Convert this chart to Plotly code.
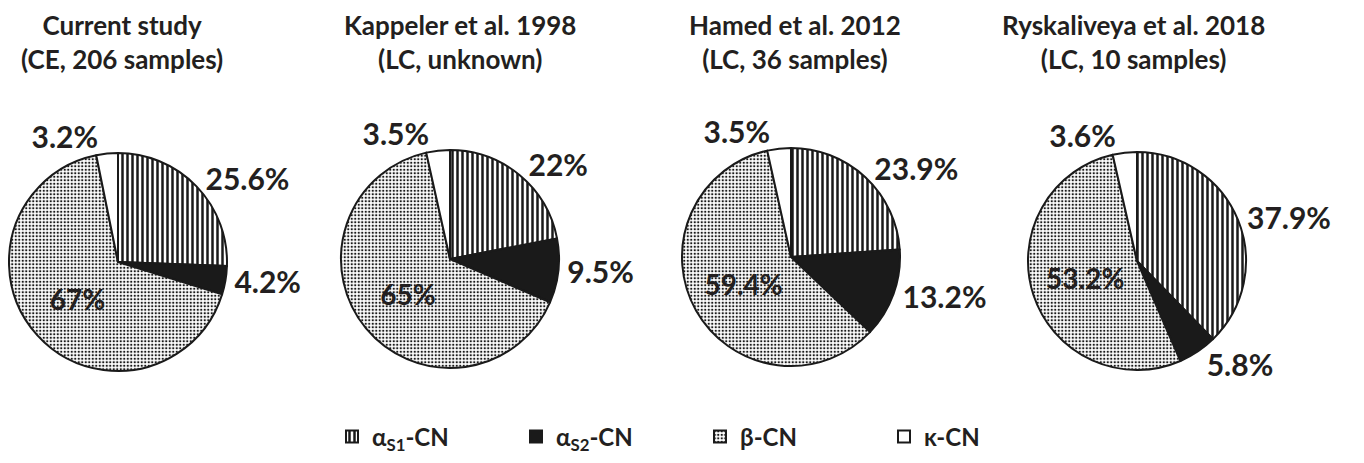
import plotly.graph_objects as go

categories = ["α<sub>S1</sub>-CN", "α<sub>S2</sub>-CN", "β-CN", "κ-CN"]
studies = ["Current study<br>(CE, 206 samples)",
           "Kappeler et al. 1998<br>(LC, unknown)",
           "Hamed et al. 2012<br>(LC, 36 samples)",
           "Ryskaliveya et al. 2018<br>(LC, 10 samples)"]
current_study = [25.6, 4.2, 67, 3.2]
kappeler_1998 = [22, 9.5, 65, 3.5]
hamed_2012 = [23.9, 13.2, 59.4, 3.5]
ryskaliveya_2018 = [37.9, 5.8, 53.2, 3.6]
series = [current_study, kappeler_1998, hamed_2012, ryskaliveya_2018]

W, H = 1364, 463
centers_px = [(118, 262), (450, 259), (791, 257), (1137, 261)]
title_x_px = [122, 460, 795, 1133]
R = 109
TXT = "#231f20"
FONT = "Lato"

fig = go.Figure()
for i, (vals, (cx, cy)) in enumerate(zip(series, centers_px)):
    fig.add_trace(go.Pie(
        labels=categories,
        values=vals,
        sort=False,
        direction="clockwise",
        rotation=0,
        domain=dict(x=[(cx - R) / W, (cx + R) / W], y=[(H - cy - R) / H, (H - cy + R) / H]),
        marker=dict(
            colors=["white", "#1a1a1a", "white", "white"],
            line=dict(color="#1a1a1a", width=2),
            pattern=dict(shape=["|", "", ".", ""], fgcolor="#1a1a1a", bgcolor="white",
                         size=[5, 6, 3.5, 6], solidity=[0.5, 0.3, 0.35, 0.3], fillmode="replace"),
        ),
        texttemplate="%{value}%",
        textposition=["outside", "outside", "inside", "outside"],
        insidetextorientation="horizontal",
        outsidetextfont=dict(family=FONT, size=30, color=TXT, weight="bold"),
        insidetextfont=dict(family=FONT, size=28, color=TXT, weight="bold"),
        showlegend=(i == 0),
        hoverinfo="label+value",
    ))
    fig.add_annotation(x=title_x_px[i] / W, y=1 - 7 / H, xref="paper", yref="paper",
                       text=studies[i], showarrow=False, xanchor="center", yanchor="top",
                       font=dict(family=FONT, size=26, color=TXT, weight="bold"))

fig.update_layout(
    width=W, height=H,
    margin=dict(l=0, r=0, t=0, b=0, autoexpand=False),
    paper_bgcolor="white", plot_bgcolor="white",
    legend=dict(orientation="h", x=332 / W, xanchor="left", y=(H - 437) / H, yanchor="middle",
                font=dict(family=FONT, size=24, color=TXT, weight="bold"),
                entrywidth=139, traceorder="normal"),
)
fig.write_html("out.html", config={"displayModeBar": False},
               post_script="document.body.style.margin='0px';")
